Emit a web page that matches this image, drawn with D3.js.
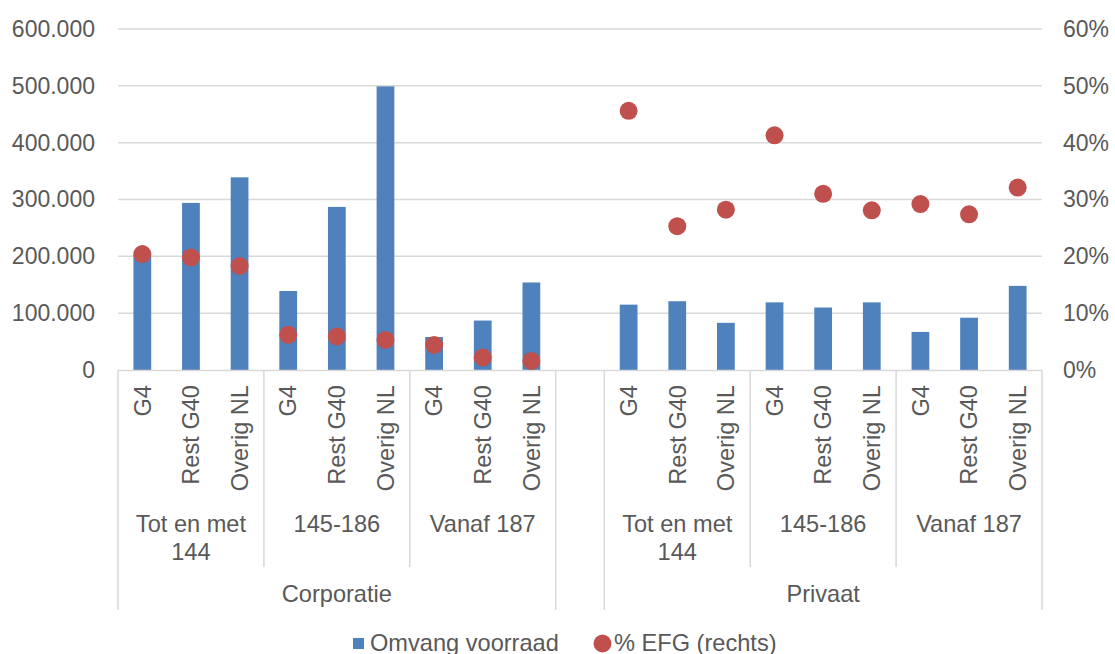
<!DOCTYPE html>
<html>
<head>
<meta charset="utf-8">
<script src="https://cdn.jsdelivr.net/npm/d3@7/dist/d3.min.js"></script>
<style>
  html, body { margin: 0; padding: 0; background: #fff; }
  svg { display: block; font-family: "Liberation Sans", Arial, sans-serif; }
  .lbl { fill: #595959; font-size: 23.6px; }
  .num { fill: #595959; font-size: 23px; }
</style>
</head>
<body>
<svg id="chart" width="1115" height="654"></svg>
<script>
// ---- data ----
const sectors = ["Corporatie", "Privaat"];
const sizeGroups = ["Tot en met 144", "145-186", "Vanaf 187"];
const regions = ["G4", "Rest G40", "Overig NL"];
const omvangCorporatie = [203000, 294000, 339000, 139000, 287000, 499000, 58000, 87000, 154000];
const omvangPrivaat    = [115000, 121000, 83000, 119000, 110000, 119000, 67000, 92000, 148000];
const efgCorporatie = [0.204, 0.198, 0.183, 0.062, 0.059, 0.053, 0.044, 0.022, 0.016];
const efgPrivaat    = [0.456, 0.253, 0.282, 0.413, 0.310, 0.281, 0.292, 0.274, 0.321];
const leftTicks = [0, 100000, 200000, 300000, 400000, 500000, 600000];
const rightTicks = [0, 0.1, 0.2, 0.3, 0.4, 0.5, 0.6];
const legendLabels = ["Omvang voorraad", "% EFG (rechts)"];

// ---- build rows ----
const rows = [];
const omv = [omvangCorporatie, omvangPrivaat];
const efg = [efgCorporatie, efgPrivaat];
sectors.forEach((s, si) => {
  sizeGroups.forEach((g, gi) => {
    regions.forEach((r, ri) => {
      const i = gi * 3 + ri;
      rows.push({ key: s + "|" + g + "|" + r, sector: s, group: g, region: r, omvang: omv[si][i], efg: efg[si][i] });
    });
  });
  if (si === 0) rows.push({ key: "gap", gap: true });
});

const svg = d3.select("#chart");
const colBlue = "#4F81BD", colRed = "#C0504D", gridCol = "#D9D9D9";

const x = d3.scaleBand().domain(rows.map(d => d.key)).range([118, 1042]).padding(0);
const yL = d3.scaleLinear().domain([0, 600000]).range([370, 29]);
const yR = d3.scaleLinear().domain([0, 0.6]).range([370, 29]);

const nl = d3.formatLocale({ decimal: ",", thousands: ".", grouping: [3], currency: ["€", ""] });
const fmtL = nl.format(",.0f");
const fmtR = d3.format(".0%");

// gridlines
svg.append("g").selectAll("line").data(leftTicks.filter(t => t > 0)).join("line")
  .attr("x1", 118).attr("x2", 1042)
  .attr("y1", d => yL(d)).attr("y2", d => yL(d))
  .attr("stroke", gridCol).attr("stroke-width", 1.5);

// left axis
const gL = svg.append("g").attr("transform", "translate(118,0)")
  .call(d3.axisLeft(yL).tickValues(leftTicks).tickFormat(fmtL).tickSize(0).tickPadding(23));
gL.select(".domain").remove();
gL.selectAll("text").attr("class", "num").attr("font-family", null).attr("font-size", null).attr("fill", null);

// right axis
const gR = svg.append("g").attr("transform", "translate(1042,0)")
  .call(d3.axisRight(yR).tickValues(rightTicks).tickFormat(fmtR).tickSize(0).tickPadding(21));
gR.select(".domain").remove();
gR.selectAll("text").attr("class", "num").attr("font-family", null).attr("font-size", null).attr("fill", null);

// bars
const data = rows.filter(d => !d.gap);
const bw = x.bandwidth() * 0.365;
svg.append("g").selectAll("rect").data(data).join("rect")
  .attr("x", d => x(d.key) + x.bandwidth() / 2 - bw / 2)
  .attr("width", bw)
  .attr("y", d => yL(d.omvang))
  .attr("height", d => yL(0) - yL(d.omvang))
  .attr("fill", colBlue);

// category axis baseline
svg.append("line").attr("x1", 118).attr("x2", 1042).attr("y1", 370.5).attr("y2", 370.5)
  .attr("stroke", gridCol).attr("stroke-width", 1.5);

// dots
svg.append("g").selectAll("circle").data(data).join("circle")
  .attr("cx", d => x(d.key) + x.bandwidth() / 2)
  .attr("cy", d => yR(d.efg))
  .attr("r", 9)
  .attr("fill", colRed);

// separators
const step = x.step();
const bx = i => 118 + i * step;
const outer = [0, 9, 10, 19], inner = [3, 6, 13, 16];
svg.append("g").selectAll("line.o").data(outer).join("line")
  .attr("x1", d => bx(d)).attr("x2", d => bx(d)).attr("y1", 370).attr("y2", 610)
  .attr("stroke", gridCol).attr("stroke-width", 1.5);
svg.append("g").selectAll("line.i").data(inner).join("line")
  .attr("x1", d => bx(d)).attr("x2", d => bx(d)).attr("y1", 370).attr("y2", 567)
  .attr("stroke", gridCol).attr("stroke-width", 1.5);

// region labels (rotated)
svg.append("g").selectAll("text").data(data).join("text")
  .attr("class", "lbl")
  .attr("transform", d => `translate(${x(d.key) + x.bandwidth() / 2},385) rotate(-90)`)
  .attr("text-anchor", "end")
  .attr("dy", "0.35em")
  .text(d => d.region);

// size group labels
sectors.forEach((s, si) => {
  sizeGroups.forEach((g, gi) => {
    const start = si * 10 + gi * 3;
    const cx = bx(start) + step * 1.5;
    const t = svg.append("text").attr("class", "lbl").attr("text-anchor", "middle");
    if (g === "Tot en met 144") {
      t.append("tspan").attr("x", cx).attr("y", 531.5).text("Tot en met");
      t.append("tspan").attr("x", cx).attr("y", 560).text("144");
    } else {
      t.attr("x", cx).attr("y", 531.5).text(g);
    }
  });
  const cx = (bx(si * 10) + bx(si * 10 + 9)) / 2;
  svg.append("text").attr("class", "lbl").attr("text-anchor", "middle")
    .attr("x", cx).attr("y", 601.5).text(s);
});

// legend
const lg = svg.append("g");
lg.append("rect").attr("x", 353).attr("y", 638).attr("width", 11).attr("height", 11).attr("fill", colBlue);
lg.append("text").attr("class", "lbl").attr("x", 370).attr("y", 650.5).text(legendLabels[0]);
lg.append("circle").attr("cx", 602.5).attr("cy", 643.5).attr("r", 9).attr("fill", colRed);
lg.append("text").attr("class", "lbl").attr("x", 614).attr("y", 650.5).text(legendLabels[1]);
</script>
</body>
</html>
